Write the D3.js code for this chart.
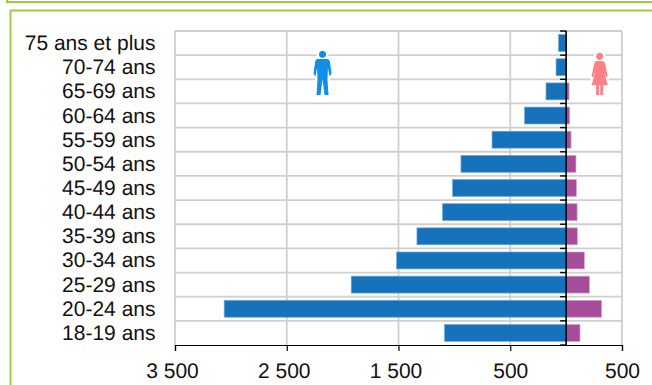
<!DOCTYPE html>
<html>
<head>
<meta charset="utf-8">
<script src="https://cdn.jsdelivr.net/npm/d3@7"></script>
<style>
  html, body { margin: 0; padding: 0; background: #fff; }
  text { font-family: "Liberation Sans", Arial, sans-serif; fill: #111; text-rendering: geometricPrecision; }
</style>
</head>
<body>
<div id="chart"></div>
<script>
const categories = ["75 ans et plus", "70-74 ans", "65-69 ans", "60-64 ans", "55-59 ans", "50-54 ans", "45-49 ans", "40-44 ans", "35-39 ans", "30-34 ans", "25-29 ans", "20-24 ans", "18-19 ans"];
const hommes = [67, 90, 180, 372, 663, 941, 1016, 1106, 1335, 1517, 1923, 3060, 1088];
const femmes = [0, 0, 26, 32, 44, 88, 92, 98, 100, 163, 208, 318, 124];
const xTicks = [-3500, -2500, -1500, -500, 500];

const W = 652, H = 385;
const margin = {top: 31, right: 30, bottom: 40, left: 175};

const svg = d3.select("#chart").append("svg")
    .attr("width", W)
    .attr("height", H)
    .style("display", "block");

// green frames
svg.append("rect").attr("x", 7).attr("y", -20).attr("width", W + 20).attr("height", 22)
    .attr("fill", "none").attr("stroke", "#99cc44").attr("stroke-width", 2);
svg.append("rect").attr("x", 10.5).attr("y", 10.5).attr("width", W + 20).attr("height", H + 20)
    .attr("fill", "#fff").attr("stroke", "#99cc44").attr("stroke-width", 2);

const x = d3.scaleLinear().domain([-3500, 500]).range([margin.left, W - margin.right]);
const y = d3.scaleBand().domain(categories).range([margin.top, H - margin.bottom]).paddingInner(0.3).paddingOuter(0.15);
const step = y.step();

const g = svg.append("g");

// grid
g.selectAll("line.v").data(xTicks).enter().append("line")
    .attr("x1", d => x(d)).attr("x2", d => x(d))
    .attr("y1", margin.top).attr("y2", H - margin.bottom)
    .attr("stroke", "#cfcfcf").attr("stroke-width", 1.8);
g.selectAll("line.h").data(d3.range(categories.length)).enter().append("line")
    .attr("x1", margin.left).attr("x2", W - margin.right)
    .attr("y1", i => margin.top + i * step).attr("y2", i => margin.top + i * step)
    .attr("stroke", "#cfcfcf").attr("stroke-width", 1.8);

// bars
g.selectAll("rect.f").data(categories).enter().append("rect")
    .attr("x", x(0))
    .attr("y", d => y(d))
    .attr("width", (d, i) => x(femmes[i]) - x(0))
    .attr("height", y.bandwidth())
    .attr("fill", "#a64c9a")
    .attr("stroke", (d, i) => femmes[i] ? "#d3a5cd" : "none")
    .attr("stroke-width", 0.7);
g.selectAll("rect.m").data(categories).enter().append("rect")
    .attr("x", (d, i) => x(-hommes[i]))
    .attr("y", d => y(d))
    .attr("width", (d, i) => x(0) - x(-hommes[i]))
    .attr("height", y.bandwidth())
    .attr("fill", "#1772bc")
    .attr("stroke", "#6fa9d8")
    .attr("stroke-width", 0.7);

// bottom axis
const xAxis = d3.axisBottom(x).tickValues(xTicks).tickSize(6)
    .tickFormat(d => d3.format(",")(Math.abs(d)).replace(",", " "));
const gx = svg.append("g").attr("transform", "translate(0," + (H - margin.bottom) + ")").call(xAxis);
gx.select(".domain").attr("stroke", "#000").attr("stroke-width", 1.2);
gx.selectAll(".tick line").attr("stroke", "#000").attr("stroke-width", 1.2);
gx.selectAll("text").attr("font-size", 21).attr("y", 33).attr("dy", 0).attr("font-family", null)
    .attr("dx", d => Math.abs(d) > 999 ? -3 : 0);

// labels + zero axis
svg.selectAll("text.cat").data(categories).enter().append("text")
    .attr("x", 155.5)
    .attr("y", d => y(d) + y.bandwidth() / 2 + 7)
    .attr("text-anchor", "end")
    .attr("font-size", 21)
    .text(d => d);
svg.append("line").attr("x1", x(0)).attr("x2", x(0)).attr("y1", margin.top).attr("y2", H - margin.bottom)
    .attr("stroke", "#000").attr("stroke-width", 1.6);
svg.selectAll("line.tk").data(d3.range(categories.length + 1)).enter().append("line")
    .attr("x1", x(0) - 6).attr("x2", x(0))
    .attr("y1", i => margin.top + i * step).attr("y2", i => margin.top + i * step)
    .attr("stroke", "#000").attr("stroke-width", 1.4);

// pictograms, white halo masks the grid behind them
const homme = "M0,0a3.6,3.6 0 1 1 .01,0M-4.5,1 H4.5 Q7,1 7.4,4 L9,15 Q9,17 7,18 L5.4,10 L5,22 L6,37 H2 L0,21 L-2,37 H-6 L-5,22 L-5.4,10 L-7,18 Q-9,17 -9,15 L-7.4,4 Q-7,1 -4.5,1Z";
const femme = "M0,0a3.6,3.6 0 1 1 .01,0M-3,1 H3 Q5,1 5.6,4 L8,16 L6.5,17.5 L3.5,8 L8,25 H3.5 L3.5,35 H.6 L.5,25 H-.5 L-.6,35 H-3.5 L-3.5,25 H-8 L-3.5,8 L-6.5,17.5 L-8,16 L-5.6,4 Q-5,1 -3,1Z";
function picto(path, px, py, color) {
    const p = svg.append("g").attr("transform", "translate(" + x(px) + "," + py + ")");
    p.append("path").attr("d", path).attr("fill", "#fff").attr("stroke", "#fff").attr("stroke-width", 5);
    p.append("path").attr("d", path).attr("fill", color);
}
picto(homme, -2180, 58, "#0f8fe8");
picto(femme, 300, 60, "#ff7f86");
</script>
</body>
</html>
